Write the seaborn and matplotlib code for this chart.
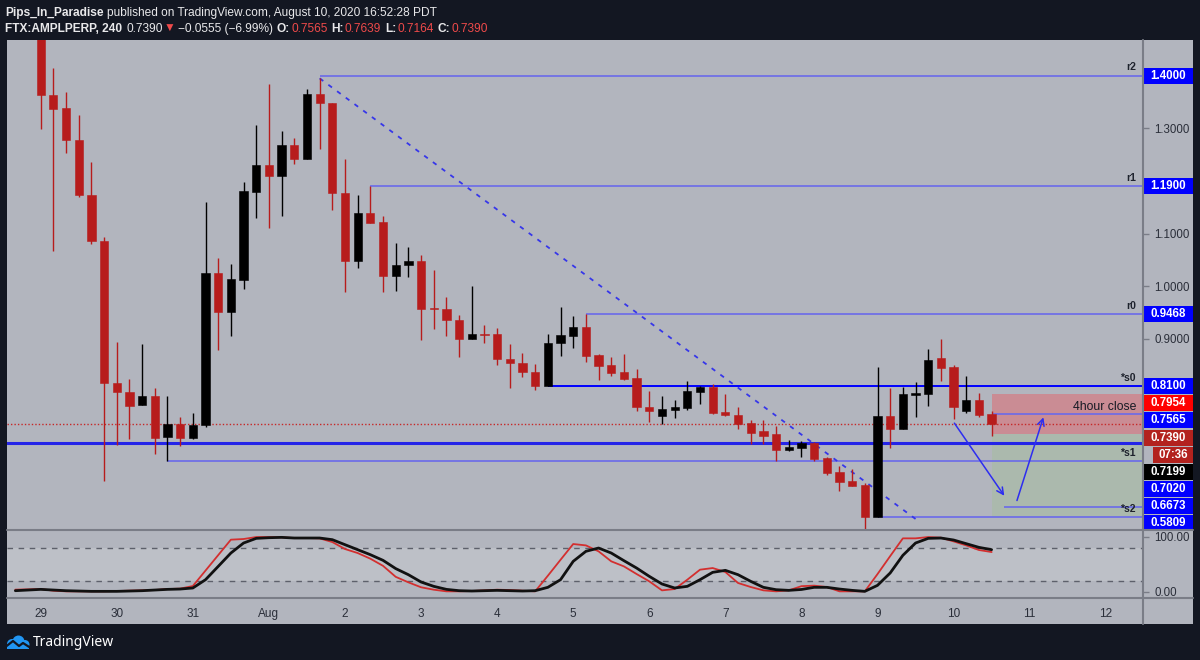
#!/usr/bin/env python

# Modules
import matplotlib
matplotlib.use('Agg')
import matplotlib.pyplot as plt
import matplotlib.dates as mdates
from matplotlib.patches import Rectangle, Circle
from matplotlib.lines import Line2D
from matplotlib.ticker import FormatStrFormatter
import numpy as np
import pandas as pd
import seaborn as sns

# Data: FTX:AMPLPERP 4h candles
candle_start = '2020-07-29 00:00'
opens = [1.490, 1.364, 1.338, 1.278, 1.174, 1.086, 0.817, 0.800, 0.775, 0.791,
         0.713, 0.739, 0.711, 0.736, 1.025, 0.951, 1.012, 1.180, 1.230, 1.210,
         1.268, 1.242, 1.366, 1.348, 1.178, 1.048, 1.139, 1.123, 1.020, 1.040,
         1.048, 0.959, 0.956, 0.936, 0.900, 0.909, 0.909, 0.861, 0.855, 0.837,
         0.810, 0.892, 0.906, 0.923, 0.869, 0.850, 0.838, 0.825, 0.771, 0.754,
         0.765, 0.769, 0.800, 0.809, 0.762, 0.756, 0.741, 0.725, 0.719, 0.689,
         0.693, 0.702, 0.673, 0.648, 0.630, 0.623, 0.561, 0.753, 0.729, 0.794,
         0.795, 0.864, 0.846, 0.763, 0.784, 0.7565]
highs = [1.500, 1.415, 1.369, 1.326, 1.236, 1.094, 0.894, 0.823, 0.891, 0.806,
         0.791, 0.751, 0.760, 1.161, 1.053, 1.043, 1.199, 1.306, 1.384, 1.294,
         1.281, 1.375, 1.395, 1.349, 1.242, 1.174, 1.190, 1.134, 1.083, 1.075,
         1.060, 1.030, 0.980, 0.946, 1.000, 0.926, 0.920, 0.891, 0.873, 0.853,
         0.910, 0.960, 0.943, 0.9468, 0.871, 0.866, 0.871, 0.843, 0.801, 0.791,
         0.784, 0.820, 0.810, 0.814, 0.795, 0.771, 0.746, 0.746, 0.735, 0.708,
         0.707, 0.705, 0.676, 0.659, 0.653, 0.626, 0.846, 0.806, 0.809, 0.819,
         0.881, 0.900, 0.850, 0.830, 0.797, 0.7639]
lows = [1.299, 1.067, 1.253, 1.170, 1.081, 0.631, 0.699, 0.710, 0.774, 0.681,
        0.668, 0.697, 0.710, 0.733, 0.878, 0.906, 0.994, 1.129, 1.111, 1.134,
        1.232, 1.242, 1.260, 1.144, 0.990, 1.034, 1.121, 0.990, 0.991, 1.018,
        0.897, 0.918, 0.905, 0.866, 0.900, 0.893, 0.850, 0.806, 0.827, 0.803,
        0.810, 0.868, 0.882, 0.856, 0.822, 0.830, 0.822, 0.763, 0.743, 0.738,
        0.750, 0.765, 0.776, 0.758, 0.753, 0.729, 0.700, 0.700, 0.669, 0.687,
        0.675, 0.669, 0.642, 0.611, 0.620, 0.539, 0.561, 0.693, 0.729, 0.752,
        0.773, 0.820, 0.747, 0.760, 0.752, 0.7164]
closes = [1.363, 1.337, 1.278, 1.174, 1.086, 0.817, 0.800, 0.773, 0.791, 0.712,
          0.739, 0.711, 0.737, 1.025, 0.951, 1.013, 1.181, 1.230, 1.210, 1.268,
          1.242, 1.366, 1.348, 1.178, 1.048, 1.139, 1.121, 1.020, 1.041, 1.048,
          0.957, 0.956, 0.936, 0.900, 0.909, 0.907, 0.861, 0.855, 0.837, 0.811,
          0.893, 0.907, 0.923, 0.868, 0.849, 0.836, 0.823, 0.771, 0.763, 0.766,
          0.771, 0.801, 0.809, 0.760, 0.755, 0.739, 0.722, 0.716, 0.689, 0.694,
          0.702, 0.672, 0.646, 0.629, 0.621, 0.561, 0.753, 0.729, 0.795, 0.797,
          0.859, 0.845, 0.770, 0.784, 0.755, 0.7390]

# Stoch RSI pane (starts two bars before the first visible candle)
stoch_start = '2020-07-28 16:00'
stoch_k = [3.7, 4.2, 4.8, 1.8, 0.6, 0.6, 0.6, 0.6, 1.2, 1.8,
           2.4, 3.0, 4.8, 5.5, 10.3, 38.4, 66.5, 94.6, 95.8, 99.4,
           99.4, 98.8, 97.6, 97.6, 97.0, 90.3, 77.6, 70.3, 60.0, 47.0,
           27.0, 17.0, 8.0, 3.6, 0.6, 0.6, 1.2, 2.4, 3.6, 3.0,
           1.8, 0.6, 29.0, 58.0, 86.7, 84.2, 73.4, 55.2, 46.0, 32.1,
           18.8, 2.4, 4.8, 21.8, 40.0, 43.0, 35.8, 15.8, 8.5, 2.4,
           0.6, 2.4, 10.0, 11.0, 8.5, 0.6, 0.6, 0.6, 32.0, 64.7,
           97.0, 97.0, 99.4, 98.2, 91.5, 84.2, 75.8, 72.1]
stoch_d = [1.8, 3.0, 4.2, 3.0, 1.8, 1.2, 0.6, 0.6, 0.6, 1.2,
           1.8, 3.0, 4.2, 4.8, 6.7, 21.8, 46.0, 70.3, 88.5, 97.0,
           98.2, 98.8, 97.6, 97.6, 97.6, 94.6, 85.5, 76.4, 67.3, 57.0,
           42.0, 30.9, 17.6, 9.7, 4.2, 1.8, 1.2, 1.8, 2.4, 1.8,
           1.2, 1.8, 7.9, 21.8, 55.2, 73.4, 79.4, 70.3, 56.4, 43.0,
           27.9, 14.0, 6.7, 9.7, 21.8, 35.2, 38.8, 30.9, 18.8, 7.9,
           3.6, 2.4, 4.0, 7.9, 7.9, 4.8, 2.4, 0.6, 11.5, 34.0,
           66.1, 88.5, 97.0, 97.6, 94.0, 87.3, 80.6, 76.4]

# Drawn levels: label, price, candle index where the ray starts
level_names = ['r2', 'r1', 'r0', '*s0', '*s1', '*s2']
level_prices = [1.4000, 1.1900, 0.9468, 0.8100, 0.6673, 0.5610]
level_start_bars = [22, 26, 43, 40, 10, 66]

support_price = 0.7020
last_price = 0.7390
close_line_price = 0.7565
red_zone = [0.7199, 0.7954]
target_price = 0.5809
target_start = '2020-08-10 16:00'

trend_bars = [22, 69]
trend_prices = [1.395, 0.558]

arrow_starts = [('2020-08-10 00:15', 0.740), ('2020-08-10 20:00', 0.593)]
arrow_ends = [('2020-08-10 16:00', 0.602), ('2020-08-11 04:20', 0.751)]

# Price-axis flags
flag_prices = [1.4000, 1.1900, 0.9468, 0.8100, 0.7954, 0.7565, 0.7390, 0.7390,
               0.7199, 0.7020, 0.6673, 0.5809]
flag_texts = ['1.4000', '1.1900', '0.9468', '0.8100', '0.7954', '0.7565', '0.7390', '07:36',
              '0.7199', '0.7020', '0.6673', '0.5809']
flag_colors = ['#0000ff', '#0000ff', '#0000ff', '#0000ff', '#ff0000', '#0000ff', '#b3221e', '#b3221e',
               '#000000', '#0000ff', '#0000ff', '#0000ff']

price_ticks = [1.3, 1.1, 1.0, 0.9]
day_labels = ['29', '30', '31', 'Aug', '2', '3', '4', '5', '6', '7', '8', '9', '10', '11', '12']

# Style
W, H = 1200, 660
DARK = '#131722'
PANE = '#b2b5be'
BAND = '#bdc0c7'
UP = '#000000'
DOWN = '#b71c1c'
LEVEL = '#6a6aea'
GRID_LINE = '#7a7d87'
TEXT = '#2a2e39'
RED_TXT = '#ef4a4a'


def px_rect(x0, y0, x1, y1):
    '''Pixel box (top-left origin) to figure fraction [l, b, w, h].'''
    return [x0 / W, 1 - y1 / H, (x1 - x0) / W, (y1 - y0) / H]


def draw_runs(fig, x, y, runs, size):
    '''Write coloured text pieces one after another on a line.'''
    renderer = fig.canvas.get_renderer()
    for text, color, weight, gap in runs:
        x += gap
        t = fig.text(x / W, 1 - y / H, text, color=color, fontweight=weight, fontsize=size,
                     family=['Liberation Sans', 'DejaVu Sans'], ha='left', va='center')
        x += t.get_window_extent(renderer).width


def draw_chart():
    sns.set_style('white')
    plt.rcParams['font.family'] = ['Liberation Sans', 'DejaVu Sans']
    plt.rcParams['axes.unicode_minus'] = True

    fig = plt.figure(figsize=(W / 100, H / 100), dpi=100, facecolor=DARK)

    # grey chart area incl. price axis column
    fig.add_artist(Rectangle((7 / W, 1 - 624 / H), 1186 / W, 584 / H, transform=fig.transFigure,
                             facecolor=PANE, edgecolor='none', zorder=-5))

    ax = fig.add_axes(px_rect(7, 40, 1143, 530), facecolor=PANE)
    ax2 = fig.add_axes(px_rect(7, 530, 1143, 598), facecolor=PANE)

    times = pd.date_range(candle_start, periods=len(opens), freq='4h')
    x = mdates.date2num(times)
    day0 = x[0]
    o, h, l, c = map(np.asarray, (opens, highs, lows, closes))
    colors = np.where(c >= o, UP, DOWN)

    x_left, x_right = day0 - 0.443, day0 + 14.49
    ax.set_xlim(x_left, x_right)
    ax.set_ylim(0.537, 1.4678)

    # zones on the right
    z0 = x[-1]
    ax.add_patch(Rectangle((z0, red_zone[0]), x_right - z0, red_zone[1] - red_zone[0],
                           facecolor='#ca8c94', edgecolor='none', zorder=1))
    ax.add_patch(Rectangle((z0, level_prices[-1]), x_right - z0, red_zone[0] - level_prices[-1],
                           facecolor='#abb9ad', edgecolor='none', zorder=1))

    # levels
    for name, price, bar in zip(level_names, level_prices, level_start_bars):
        lc, lw = (('#0000ff', 1.4) if name == '*s0' else (LEVEL, 1.2))
        ax.hlines(price, x[bar], x_right, colors=lc, linewidth=lw, zorder=2)
        ax.annotate(name, xy=((1136 - 7) / 1136, price), xycoords=ax.get_yaxis_transform(),
                    xytext=(0, 2.5), textcoords='offset points', ha='right', va='bottom',
                    fontsize=7.5, fontweight='bold', color='#1e222d', zorder=7)
    ax.axhline(support_price, color='#2424e8', linewidth=2.2, zorder=2)
    ax.axhline(last_price, color='#c62828', linewidth=1.0, linestyle=(0, (1, 1.5)), zorder=2)
    ax.hlines(close_line_price, z0, x_right, colors=LEVEL, linewidth=1.2, zorder=2)
    ax.hlines(target_price, mdates.date2num(pd.Timestamp(target_start)), x_right,
              colors=LEVEL, linewidth=1.2, zorder=2)
    ax.text((1136 - 7) / 1136, 0.7712, '4hour close', transform=ax.get_yaxis_transform(),
            ha='right', va='center', fontsize=8.8, color='#161a24', zorder=7)

    # trend line
    ax.plot([x[trend_bars[0]], x[trend_bars[1]]], trend_prices, color='#3636ea',
            linewidth=1.3, linestyle=(0, (2.5, 3.5)), zorder=2)

    # arrows
    for (t0, p0), (t1, p1) in zip(arrow_starts, arrow_ends):
        ax.annotate('', xy=(mdates.date2num(pd.Timestamp(t1)), p1),
                    xytext=(mdates.date2num(pd.Timestamp(t0)), p0),
                    arrowprops=dict(arrowstyle='->', color='#2d2df0', lw=1.1,
                                    shrinkA=0, shrinkB=0, mutation_scale=12), zorder=5)

    # candles
    ax.vlines(x, l, h, colors=colors, linewidth=1.0, zorder=3)
    body_low = np.minimum(o, c)
    body_h = np.maximum(np.abs(c - o), 0.0025)
    ax.bar(x, body_h, bottom=body_low, width=0.65 / 6, color=colors, edgecolor=colors,
           linewidth=0.4, zorder=4)

    # right price axis
    ax.yaxis.tick_right()
    ax.set_yticks(price_ticks)
    ax.yaxis.set_major_formatter(FormatStrFormatter('%.4f'))
    ax.tick_params(axis='y', direction='out', length=4, width=1, color=GRID_LINE,
                   labelcolor=TEXT, labelsize=8.3, pad=4)
    ax.set_xticks([])
    for s in ax.spines.values():
        s.set_visible(False)

    # price flags, stacked so they do not overlap
    step = 17.1 / 526.4
    box_h = 16 / 526.4
    prev = np.inf
    for price, text, col in zip(flag_prices, flag_texts, flag_colors):
        y = min(price, prev - step) if price < 0.85 else price
        prev = y
        left = 1.0 if text != '07:36' else (1152.7 - 7) / 1136
        right = (1193 - 7) / 1136
        ax.add_patch(Rectangle((left, y - box_h / 2), right - left, box_h,
                               transform=ax.get_yaxis_transform(), facecolor=col,
                               edgecolor='none', clip_on=False, zorder=8))
        ax.text((left + right) / 2, y, text, transform=ax.get_yaxis_transform(), color='white',
                fontsize=8.3, fontweight='bold', ha='center', va='center', clip_on=False, zorder=9)

    # Stoch RSI pane
    stimes = pd.date_range(stoch_start, periods=len(stoch_k), freq='4h')
    df_stoch = pd.DataFrame({'time': mdates.date2num(stimes), 'K': stoch_k, 'D': stoch_d})
    ax2.axhspan(20, 80, color=BAND, linewidth=0, zorder=0)
    for lvl in (20, 80):
        ax2.axhline(lvl, color='#5d606b', linewidth=1.0, linestyle=(0, (4, 4)), zorder=1)
    sns.lineplot(data=df_stoch, x='time', y='K', ax=ax2, color='#d32f2f', linewidth=1.3, zorder=3)
    sns.lineplot(data=df_stoch, x='time', y='D', ax=ax2, color='#111111', linewidth=2.0, zorder=4)
    ax2.set_xlim(x_left, x_right)
    ax2.set_ylim(-11.5, 112.2)
    ax2.set_xlabel('')
    ax2.set_ylabel('')
    ax2.yaxis.tick_right()
    ax2.set_yticks([0, 100])
    ax2.yaxis.set_major_formatter(FormatStrFormatter('%.2f'))
    ax2.tick_params(axis='y', direction='out', length=4, width=1, color=GRID_LINE,
                    labelcolor=TEXT, labelsize=8.3, pad=4)
    ax2.set_xticks(day0 + np.arange(len(day_labels)))
    ax2.set_xticklabels(day_labels)
    ax2.tick_params(axis='x', direction='out', length=3, width=1, color=GRID_LINE,
                    labelcolor=TEXT, labelsize=8.5, pad=4)
    for s in ax2.spines.values():
        s.set_visible(False)

    # pane separators
    for (x0, y0, x1, y1) in [(7, 530, 1193, 530), (7, 598, 1193, 598), (1143, 40, 1143, 624)]:
        fig.add_artist(Line2D([x0 / W, x1 / W], [1 - y0 / H, 1 - y1 / H], transform=fig.transFigure,
                              color=GRID_LINE, linewidth=1.5, zorder=10))

    # header
    white = '#e8e8ea'
    draw_runs(fig, 5, 13, [('Pips_In_Paradise', white, 'bold', 0),
                           ('published on TradingView.com, August 10, 2020 16:52:28 PDT', white, 'normal', 3.5)], 8.6)
    draw_runs(fig, 5, 29, [('FTX:AMPLPERP, 240', white, 'bold', 0),
                           ('0.7390', white, 'normal', 4.5),
                           ('\u25bc', RED_TXT, 'normal', 1),
                           ('\u22120.0555 (\u22126.99%)', white, 'normal', 2.5),
                           ('O:', white, 'bold', 3.5), ('0.7565', RED_TXT, 'normal', 1),
                           ('H:', white, 'bold', 4), ('0.7639', RED_TXT, 'normal', 1),
                           ('L:', white, 'bold', 4), ('0.7164', RED_TXT, 'normal', 1),
                           ('C:', white, 'bold', 4), ('0.7390', RED_TXT, 'normal', 1)], 8.6)

    # footer logo
    lg = fig.add_axes(px_rect(5, 634, 31, 650))
    lg.set_xlim(0, 26)
    lg.set_ylim(0, 16)
    lg.axis('off')
    for cx, cy, r in [(7, 6, 5), (13.5, 8.5, 6), (20, 5.5, 4.5)]:
        lg.add_patch(Circle((cx, cy), r, color='#2196f3', lw=0))
    lg.add_patch(Rectangle((2, 1), 22, 4, color='#2196f3', lw=0))
    lg.plot([1, 8, 14, 18, 25], [3.5, 9, 4, 7, 2.5], color=DARK, linewidth=1.6)
    fig.text(33 / W, 1 - 643 / H, 'TradingView', color='white', fontsize=10,
             family=['Noto Sans', 'DejaVu Sans'], ha='left', va='center')

    fig.savefig('out.png', dpi=100, facecolor=fig.get_facecolor())
    return fig


# Code
if __name__ == '__main__':
    draw_chart()
